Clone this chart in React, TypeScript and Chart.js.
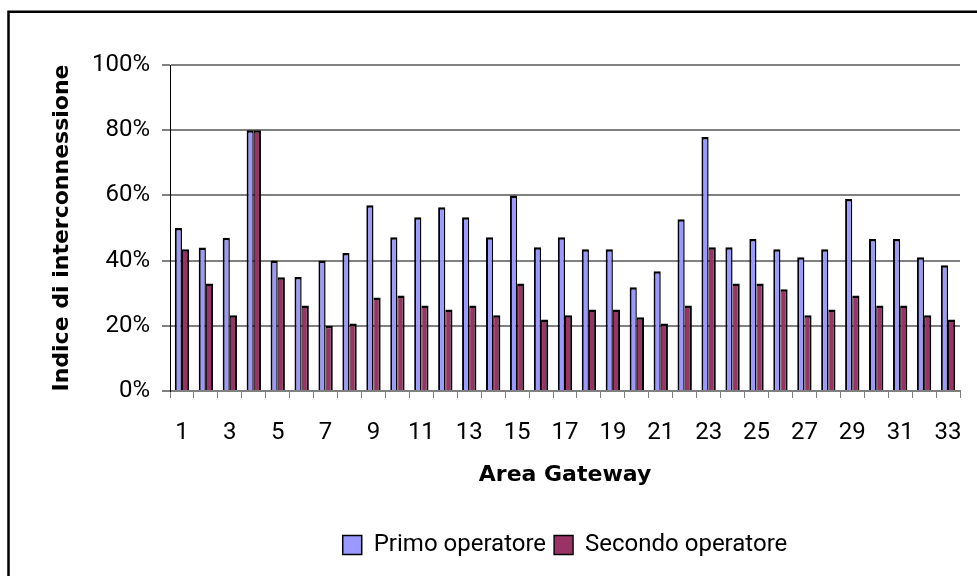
import React, { useEffect, useRef } from "react";
import { Chart, registerables } from "chart.js";

Chart.register(...registerables);

const categories = Array.from({ length: 33 }, (_, i) => String(i + 1));
const primoOperatore = [
  50, 44, 47, 80, 40, 35, 40, 42.3, 57, 47.2, 53.3, 56.4, 53.3, 47.2, 60, 44.1, 47.2,
  43.5, 43.5, 31.8, 36.7, 52.7, 77.9, 44.1, 46.6, 43.5, 41, 43.5, 58.9, 46.6, 46.6, 41, 38.6,
];
const secondoOperatore = [
  43.5, 33, 23.2, 80, 34.9, 26.2, 20, 20.7, 28.7, 29.3, 26.2, 25, 26.2, 23.2, 33, 21.9, 23.2,
  25, 25, 22.6, 20.7, 26.2, 44.1, 33, 33, 31.2, 23.2, 25, 29.3, 26.2, 26.2, 23.2, 21.9,
];
const yTicks = [0, 20, 40, 60, 80, 100];
const seriesNames = ["Primo operatore", "Secondo operatore"];
const xTitle = "Area Gateway";
const yTitle = "Indice di interconnessione";

const framePlugin = {
  id: "frame",
  beforeDraw(chart: any) {
    const ctx = chart.ctx;
    ctx.save();
    ctx.fillStyle = "#ffffff";
    ctx.fillRect(0, 0, chart.width, chart.height);
    ctx.strokeStyle = "#000000";
    ctx.lineWidth = 2.5;
    ctx.strokeRect(8.5, 11.75, 1000, 1000);
    ctx.restore();
  },
};

// center the legend under the plot area rather than the whole canvas
const legendCenterPlugin = {
  id: "legendCenter",
  afterLayout(chart: any) {
    const lg = chart.legend;
    const area = chart.chartArea;
    if (!lg || !area) return;
    lg.left = area.left;
    lg.right = area.right;
    lg.width = area.right - area.left;
  },
};

export default function App() {
  const ref = useRef<HTMLCanvasElement>(null);
  useEffect(() => {
    if (!ref.current) return;
    const chart = new Chart(ref.current, {
      type: "bar",
      data: {
        labels: categories,
        datasets: [
          {
            label: seriesNames[0],
            data: primoOperatore,
            backgroundColor: "#9999FF",
            borderColor: "#000000",
            borderWidth: { top: 2.5, left: 2, right: 1.5, bottom: 0 },
            categoryPercentage: 0.6,
            barPercentage: 1.0,
          },
          {
            label: seriesNames[1],
            data: secondoOperatore,
            backgroundColor: "#993366",
            borderColor: "#000000",
            borderWidth: { top: 2.5, left: 1, right: 2, bottom: 0 },
            categoryPercentage: 0.6,
            barPercentage: 1.0,
          },
        ],
      },
      options: {
        responsive: false,
        animation: false,
        devicePixelRatio: 1,
        layout: { padding: { top: 65, left: 0, right: 17, bottom: 9 } },
        plugins: {
          legend: {
            position: "bottom",
            labels: {
              color: "#000000",
              font: { family: "Roboto", size: 24 },
              boxWidth: 19,
              boxHeight: 19,
              padding: 8,
            },
          },
          tooltip: { enabled: false },
        },
        scales: {
          x: {
            afterFit: (scale: any) => {
              scale.height = 134;
              scale.paddingLeft = 0;
              scale.paddingRight = 0;
            },
            grid: {
              offset: true,
              drawOnChartArea: false,
              drawTicks: true,
              tickLength: 7,
              color: "#808080",
              lineWidth: 1,
            },
            border: { display: true, color: "#808080", width: 2 },
            ticks: {
              autoSkip: false,
              maxRotation: 0,
              color: "#000000",
              font: { family: "Roboto", size: 24 },
              padding: 21,
              callback: (_v: any, i: number) => (i % 2 === 0 ? categories[i] : ""),
            },
            title: {
              display: true,
              text: xTitle,
              color: "#000000",
              font: { family: "DejaVu Sans", size: 22, weight: "bold" },
              padding: { top: 0, bottom: 37 },
            },
          },
          y: {
            min: 0,
            max: 100,
            afterFit: (scale: any) => {
              scale.width = 170;
            },
            afterBuildTicks: (scale: any) => {
              scale.ticks = yTicks.map((v) => ({ value: v }));
            },
            grid: {
              color: "#808080",
              lineWidth: 2,
              tickLength: 8,
              drawTicks: true,
            },
            border: { display: true, color: "#000000", width: 1 },
            ticks: {
              color: "#000000",
              font: { family: "Roboto", size: 24 },
              padding: 12,
              callback: (v: any) => v + "%",
            },
            title: {
              display: true,
              text: yTitle,
              color: "#000000",
              font: { family: "DejaVu Sans", size: 22, weight: "bold" },
              padding: { top: 49, bottom: 0 },
            },
          },
        },
      },
      plugins: [framePlugin, legendCenterPlugin],
    });
    return () => chart.destroy();
  }, []);
  return (
    <div style={{ position: "fixed", left: 0, top: 0, width: 977, height: 576, background: "#fff" }}>
      <canvas ref={ref} width={977} height={576} style={{ display: "block" }} />
    </div>
  );
}
